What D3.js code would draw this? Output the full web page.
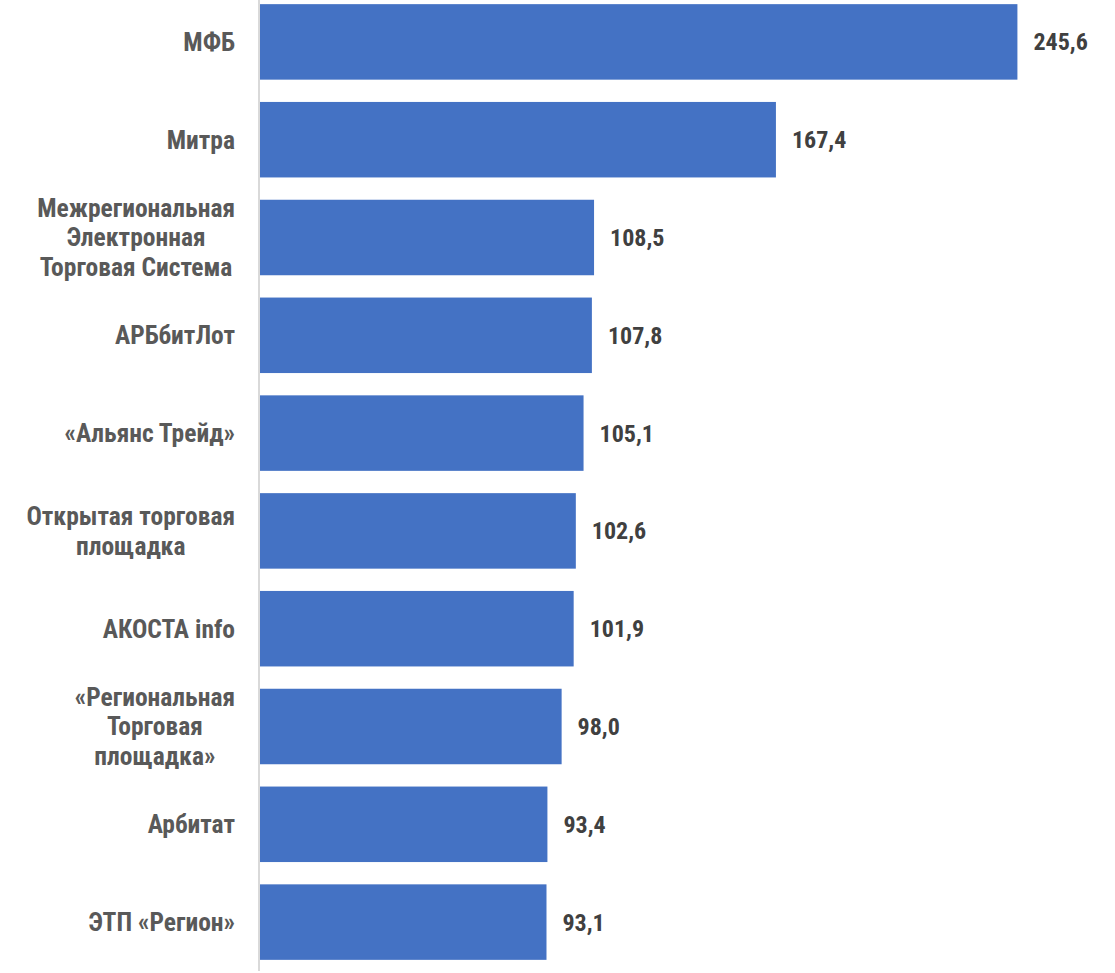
<!DOCTYPE html>
<html><head><meta charset="utf-8">
<script src="https://cdn.jsdelivr.net/npm/d3@7"></script>
<style>body{margin:0;background:#fff;} svg{display:block;}</style>
</head><body>
<svg id="c" width="1115" height="973"></svg>
<script>
const categories = [
  ["МФБ"],
  ["Митра"],
  ["Межрегиональная","Электронная","Торговая Система"],
  ["АРБбитЛот"],
  ["«Альянс Трейд»"],
  ["Открытая торговая","площадка"],
  ["АКОСТА info"],
  ["«Региональная","Торговая","площадка»"],
  ["Арбитат"],
  ["ЭТП «Регион»"]
];
const values = [245.6, 167.4, 108.5, 107.8, 105.1, 102.6, 101.9, 98.0, 93.4, 93.1];
const valueLabels = ["245,6","167,4","108,5","107,8","105,1","102,6","101,9","98,0","93,4","93,1"];

const FONT = "'Liberation Sans Narrow','Arial Narrow','Roboto Condensed',sans-serif";
const svg = d3.select("#c");
const axisX = 259;
const x = d3.scaleLinear().domain([0, 250]).range([axisX, 1031]);
const y = d3.scaleBand().domain(d3.range(categories.length)).range([-7, 971]).paddingInner(0.228).paddingOuter(0.114);

svg.selectAll("rect.bar").data(values).join("rect")
  .attr("class","bar")
  .attr("x", x(0))
  .attr("y", (d,i)=>y(i))
  .attr("width", d=>x(d)-x(0))
  .attr("height", y.bandwidth())
  .attr("fill", "#4472C4");

// axis line
svg.append("line")
  .attr("x1", axisX).attr("x2", axisX)
  .attr("y1", y.range()[0]).attr("y2", y.range()[1])
  .attr("stroke", "#d9d9d9").attr("stroke-width", 2);

const fs = 25.5, lh = 29.5, vfs = 24;
const labelRight = 235;
categories.forEach((lines, i) => {
  const cy = y(i) + y.bandwidth()/2;
  const t = svg.append("text")
    .attr("font-family", FONT).attr("font-size", fs).attr("font-weight", "bold")
    .attr("fill", "#595959").attr("text-anchor", "middle");
  const spans = lines.map((ln, k) => t.append("tspan")
    .attr("dy", k === 0 ? 0 : lh)
    .text(ln));
  let maxW = 0;
  spans.forEach(s => { maxW = Math.max(maxW, s.node().getComputedTextLength()); });
  const cx = labelRight - maxW/2;
  const y0 = cy - (lines.length-1)*lh/2 + fs*0.35;
  spans.forEach((s,k) => s.attr("x", cx));
  spans[0].attr("y", y0);
});

svg.selectAll("text.val").data(values).join("text")
  .attr("class","val")
  .attr("x", d => x(d) + 16)
  .attr("y", (d,i) => y(i) + y.bandwidth()/2 + vfs*0.35)
  .attr("font-family", FONT).attr("font-size", vfs).attr("font-weight","bold")
  .attr("fill", "#404040")
  .text((d,i) => valueLabels[i]);
</script>
</body></html>
